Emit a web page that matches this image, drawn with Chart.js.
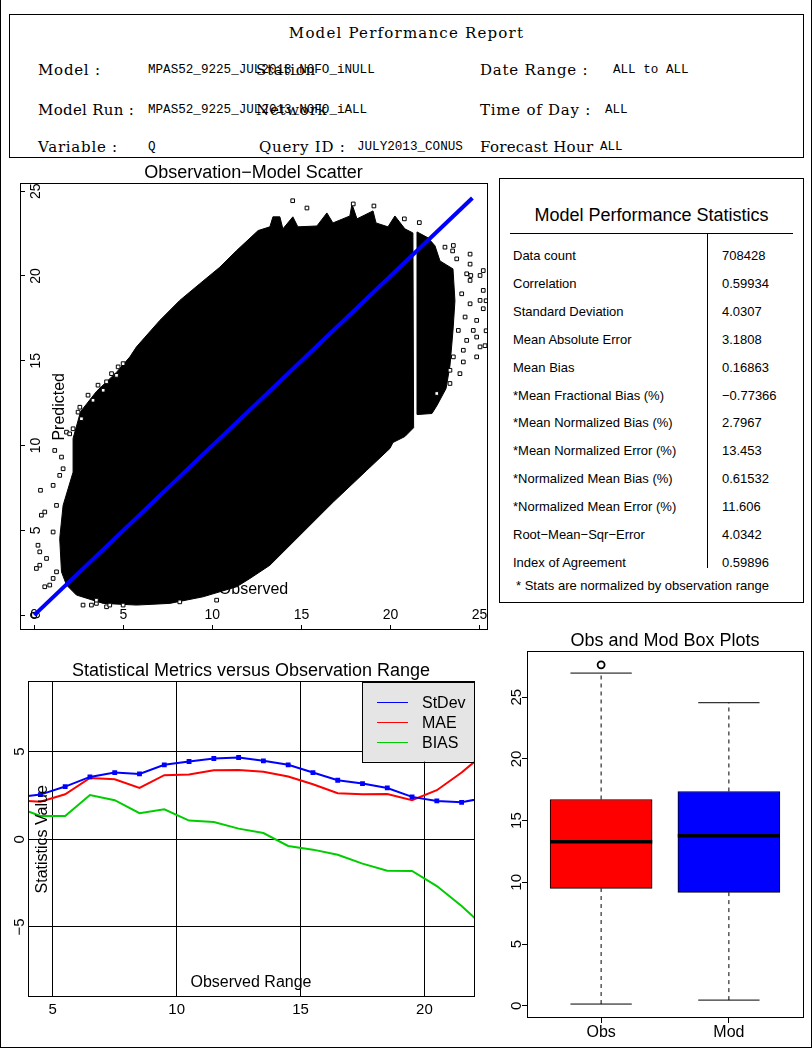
<!DOCTYPE html>
<html>
<head>
<meta charset="utf-8">
<title>Model Performance Report</title>
<script src="https://cdn.jsdelivr.net/npm/chart.js@4.4.0/dist/chart.umd.min.js"></script>
<style>
  body { margin: 0; background: #fff; }
  #page { position: relative; width: 812px; height: 1050px; overflow: hidden; }
  #outer { position: absolute; left: 0; top: 0; width: 812px; height: 1048px; box-sizing: border-box;
           border-left: 1px solid #000; border-right: 1px solid #000; border-bottom: 1px solid #000; }
  #header { position: absolute; left: 9px; top: 14px; width: 795px; height: 144px; box-sizing: border-box; border: 1px solid #000; }
  .hd { position: absolute; font-family: 'DejaVu Serif', serif; font-size: 15px; letter-spacing: 0.75px; line-height: 20px; white-space: nowrap; color: #000; }
  .hv { position: absolute; font-family: 'Liberation Mono', monospace; font-size: 12.6px; line-height: 20px; white-space: nowrap; color: #000; }
  #stats { position: absolute; left: 499px; top: 178px; width: 305px; height: 425px; box-sizing: border-box; border: 1px solid #000; }
  .st { position: absolute; font-family: 'Liberation Sans', Arial, sans-serif; font-size: 13px; line-height: 16px; white-space: nowrap; color: #000; }
  canvas { position: absolute; }
</style>
</head>
<body>
<div id="page">
  <div id="outer"></div>
  <div id="header"></div>
  <div class="hd" style="left:9px;top:23px;width:795px;text-align:center;letter-spacing:1.2px">Model Performance Report</div>

  <div class="hd" style="left:38px;top:60px">Model :</div>
  <div class="hv" style="left:148px;top:60px">MPAS52_9225_JUL2013_NOFO_iNULL</div>
  <div class="hd" style="left:256px;top:60px">Station</div>
  <div class="hd" style="left:480px;top:60px">Date Range :</div>
  <div class="hv" style="left:613px;top:60px">ALL to ALL</div>

  <div class="hd" style="left:38px;top:100px;letter-spacing:0.3px">Model Run :</div>
  <div class="hv" style="left:148px;top:100px">MPAS52_9225_JUL2013_NOFO_iALL</div>
  <div class="hd" style="left:256px;top:100px">Network</div>
  <div class="hd" style="left:480px;top:100px">Time of Day :</div>
  <div class="hv" style="left:605px;top:100px">ALL</div>

  <div class="hd" style="left:38px;top:137px">Variable :</div>
  <div class="hv" style="left:148px;top:137px">Q</div>
  <div class="hd" style="left:259px;top:137px">Query ID :</div>
  <div class="hv" style="left:357px;top:137px">JULY2013_CONUS</div>
  <div class="hd" style="left:480px;top:137px;letter-spacing:0.3px">Forecast Hour</div>
  <div class="hv" style="left:600px;top:137px">ALL</div>

  <div id="stats"></div>

  <canvas id="scatter" width="499" height="480" style="left:0;top:160px"></canvas>
  <canvas id="metrics" width="499" height="397" style="left:0;top:650px"></canvas>
  <canvas id="boxes" width="312" height="422" style="left:499px;top:625px"></canvas>
</div>

<script>
// ---- stats table ----
var statNames = ['Data count', 'Correlation', 'Standard Deviation', 'Mean Absolute Error', 'Mean Bias',
  '*Mean Fractional Bias (%)', '*Mean Normalized Bias (%)', '*Mean Normalized Error (%)',
  '*Normalized Mean Bias (%)', '*Normalized Mean Error (%)', 'Root\u2212Mean\u2212Sqr\u2212Error', 'Index of Agreement'];
var statValues = ['708428', '0.59934', '4.0307', '3.1808', '0.16863', '\u22120.77366', '2.7967', '13.453',
  '0.61532', '11.606', '4.0342', '0.59896'];

// ---- scatter: dense cloud outline (obs, mod), side band, scattered points, 1:1 line ----
var cloudObs = [2.37, 1.81, 1.53, 1.43, 1.62, 2.18, 2.18, 2.60, 3.50, 4.60, 5.37, 5.74, 7.05, 8.17, 9.29, 10.42, 11.36, 12.57,
  13.23, 13.40, 13.79, 13.96, 14.52, 14.80, 15.87, 16.43, 16.77, 17.72, 17.84, 18.12, 19.02, 19.19, 19.86, 20.25, 20.81, 21.26,
  21.30, 20.81, 20.14, 19.97, 18.66, 16.79, 14.92, 13.23, 12.11, 11.36, 9.48, 7.61, 5.74, 3.87, 2.37];
var cloudMod = [1.18, 1.77, 2.55, 4.51, 6.47, 8.43, 10.42, 12.00, 13.20, 14.30, 15.23, 15.82, 17.38, 18.56, 19.54, 20.52, 21.50, 22.68,
  22.90, 23.49, 23.49, 22.78, 23.49, 22.90, 22.95, 23.72, 23.13, 23.54, 24.24, 23.37, 23.84, 23.13, 22.90, 23.54, 22.78, 22.54,
  11.05, 10.53, 10.18, 9.83, 8.53, 6.67, 4.71, 2.94, 2.16, 1.67, 1.08, 0.69, 0.59, 0.69, 1.18];
var bandObs = [21.49, 22.11, 22.50, 22.78, 23.51, 23.62, 23.51, 23.34, 23.12, 22.61, 22.33, 21.54, 21.49];
var bandMod = [22.60, 22.25, 21.78, 20.89, 20.42, 18.54, 16.77, 14.71, 13.36, 12.36, 11.89, 11.83, 22.60];
var outObs = [14.51, 15.31, 17.91, 19.07, 20.78, 21.62, 23.06, 23.53, 23.49, 24.47, 24.47, 23.72, 24.28, 25.21, 25.03, 24.51,
  24.47, 25.21, 24.00, 25.03, 24.47, 25.21, 24.19, 24.84, 24.65, 23.81, 24.84, 24.28, 25.03, 24.09, 24.84, 23.53, 24.09, 23.34,
  23.90, 23.34, 22.60, 25.37, 25.37, 25.31,
  0.35, 1.15, 1.53, 1.06, 0.59, 0.40, 0.21, 0.31, 0.12, 0.59, 0.87, 1.06, 1.25, 0.69, 0.31, 1.06, 1.25, 1.43, 1.62, 1.81, 2.18,
  2.46, 2.65, 1.99, 2.56, 3.02, 3.58, 4.06, 4.34, 4.71, 4.99, 4.62, 3.87, 3.30,
  2.74, 3.21, 3.49, 4.06, 4.24, 4.99, 8.17, 10.24, 3.49];
var outMod = [24.44, 24.01, 24.25, 24.13, 23.37, 23.15, 21.70, 21.80, 21.48, 21.29, 20.70, 21.01, 20.13, 20.32, 20.03, 20.03,
  19.74, 19.15, 18.95, 18.56, 18.36, 18.07, 17.58, 17.38, 16.79, 16.79, 16.40, 16.20, 15.82, 15.62, 15.23, 15.23, 14.93, 14.44,
  14.24, 13.66, 13.07, 18.54, 16.77, 15.89,
  7.36, 9.71, 9.32, 7.65, 6.08, 5.89, 4.12, 2.94, 2.75, 1.67, 1.77, 2.16, 2.55, 3.34, 3.73, 4.90, 6.47, 8.24, 8.63, 10.79, 10.99,
  11.97, 11.58, 10.69, 12.26, 12.97, 13.56, 13.76, 14.24, 14.64, 14.83, 14.14, 13.26, 12.67,
  0.59, 0.59, 0.69, 0.49, 0.59, 0.59, 0.78, 0.88, 0.88];
var oneToOne = [0, 24.6];
var scatterTicks = [0, 5, 10, 15, 20, 25];

// ---- metrics versus observation range ----
var binMid = [3.5, 4.5, 5.5, 6.5, 7.5, 8.5, 9.5, 10.5, 11.5, 12.5, 13.5, 14.5, 15.5, 16.5, 17.5, 18.5, 19.5, 20.5, 21.5, 22.5];
var stdevVals = [2.40, 2.55, 3.01, 3.56, 3.81, 3.73, 4.25, 4.44, 4.61, 4.67, 4.48, 4.25, 3.81, 3.37, 3.18, 2.93, 2.42, 2.19, 2.11, 2.39];
var maeVals = [2.22, 2.15, 2.57, 3.50, 3.43, 2.93, 3.66, 3.70, 3.94, 3.96, 3.85, 3.58, 3.14, 2.63, 2.57, 2.59, 2.23, 2.80, 3.81, 5.00];
var biasVals = [1.85, 1.33, 1.33, 2.53, 2.23, 1.49, 1.71, 1.07, 0.99, 0.61, 0.36, -0.38, -0.59, -0.88, -1.39, -1.79, -1.81, -2.67, -3.81, -5.10];
var metricXTicks = [5, 10, 15, 20];
var metricYTicks = [-5, 0, 5];

// ---- box plots ----
var boxLabels = ['Obs', 'Mod'];
var boxColors = ['#ff0000', '#0000ff'];
var boxLow = [0.14, 0.46];
var boxQ1 = [9.51, 9.19];
var boxMed = [13.28, 13.77];
var boxQ3 = [16.71, 17.36];
var boxHigh = [26.95, 24.55];
var boxOutX = [1];
var boxOutY = [27.62];
var boxYTicks = [0, 5, 10, 15, 20, 25];

// stats panel
var stats = document.getElementById('stats');
function addDiv(parent, cls, text, css) {
  var d = document.createElement('div');
  d.className = cls;
  d.textContent = text;
  d.style.cssText = css;
  parent.appendChild(d);
  return d;
}
addDiv(stats, 'st', 'Model Performance Statistics', 'left:0;top:24px;width:303px;text-align:center;font-size:18px;line-height:24px');
addDiv(stats, '', '', 'position:absolute;left:10px;top:54px;width:283px;height:1px;background:#000');
addDiv(stats, '', '', 'position:absolute;left:207px;top:54px;width:1px;height:335px;background:#000');
for (var i = 0; i < statNames.length; i++) {
  var cy = 77 + i * 27.9;
  addDiv(stats, 'st', statNames[i], 'left:13px;top:' + (cy - 8) + 'px');
  addDiv(stats, 'st', statValues[i], 'left:222px;top:' + (cy - 8) + 'px');
}
addDiv(stats, 'st', '* Stats are normalized by observation range', 'left:16px;top:399px');

// charts
Chart.defaults.font.family = "'Liberation Sans', Arial, sans-serif";
Chart.defaults.color = '#000';
Chart.defaults.animation = false;
Chart.defaults.events = [];
Chart.defaults.plugins.legend.display = false;
Chart.defaults.plugins.tooltip.enabled = false;

var framePlugin = {
  id: 'frame',
  afterDraw: function (chart) {
    var a = chart.chartArea, c = chart.ctx;
    c.save();
    c.strokeStyle = '#000';
    c.lineWidth = 1;
    c.strokeRect(Math.floor(a.left) + 0.5, Math.floor(a.top) + 0.5, Math.round(a.right - a.left), Math.round(a.bottom - a.top));
    c.restore();
  }
};

// axis names drawn inside the plot region, as in the original
function insideText(items) {
  return {
    id: 'insideText',
    afterDatasetsDraw: function (chart) {
      var a = chart.chartArea, c = chart.ctx;
      c.save();
      c.fillStyle = '#000';
      c.font = "16px 'Liberation Sans', Arial, sans-serif";
      c.textAlign = 'center';
      c.textBaseline = 'middle';
      items.forEach(function (it) {
        c.save();
        c.translate(a.left + it.x * (a.right - a.left), a.top + it.y * (a.bottom - a.top));
        if (it.rot) c.rotate(-Math.PI / 2);
        c.fillText(it.text, 0, 0);
        c.restore();
      });
      c.restore();
    }
  };
}

function fixedTicks(list) {
  return function (scale) { scale.ticks = list.map(function (v) { return { value: v }; }); };
}
// fixed axis size, and no extra room for the end labels
function fitX(h) {
  return function (s) { s.height = h; s.paddingLeft = 0; s.paddingRight = 0; };
}
function fitY(w) {
  return function (s) { s.width = w; s.paddingTop = 0; s.paddingBottom = 0; };
}
function minusLabel(v) { return v < 0 ? '\u2212' + Math.abs(v) : String(v); }

// scatter
new Chart(document.getElementById('scatter'), {
  type: 'scatter',
  data: {
    datasets: [
      { label: '1:1', data: oneToOne.map(function (v) { return { x: v, y: v }; }), showLine: true,
        borderColor: '#0000ff', borderWidth: 4, pointRadius: 0, order: 0 },
      { label: 'points', data: outObs.map(function (v, i) { return { x: v, y: outMod[i] }; }),
        pointStyle: 'rect', pointRadius: 2.6, borderColor: '#000', borderWidth: 1, backgroundColor: '#fff', order: 1 },
      { label: 'cloud', data: cloudObs.map(function (v, i) { return { x: v, y: cloudMod[i] }; }), showLine: true,
        fill: 'shape', backgroundColor: '#000', borderColor: '#000', borderWidth: 1, pointRadius: 0, order: 2 },
      { label: 'band', data: bandObs.map(function (v, i) { return { x: v, y: bandMod[i] }; }), showLine: true,
        fill: 'shape', backgroundColor: '#000', borderColor: '#000', borderWidth: 1, pointRadius: 0, order: 2 }
    ]
  },
  options: {
    responsive: false,
    layout: { padding: { left: 20, right: 12, top: 0, bottom: 10 } },
    plugins: {
      title: { display: true, text: 'Observation\u2212Model Scatter', font: { size: 18, weight: 'normal' }, padding: { top: 2, bottom: 0 } }
    },
    scales: {
      x: {
        type: 'linear', min: -0.8, max: 25.42,
        afterBuildTicks: fixedTicks(scatterTicks),
        afterFit: fitX(0),
        border: { display: false },
        grid: { drawOnChartArea: false, drawTicks: true, tickLength: -5, color: '#000' },
        ticks: { font: { size: 14 }, mirror: true, padding: 6, maxRotation: 0 }
      },
      y: {
        type: 'linear', min: -0.88, max: 25.45,
        afterBuildTicks: fixedTicks(scatterTicks),
        afterFit: fitY(0),
        border: { display: false },
        grid: { drawOnChartArea: false, drawTicks: true, tickLength: -5, color: '#000' },
        ticks: { font: { size: 14 }, mirror: true, padding: 8, minRotation: 90, maxRotation: 90, crossAlign: 'center' }
      }
    }
  },
  plugins: [framePlugin, insideText([
    { text: 'Predicted', x: 0.0857, y: 0.5, rot: true },
    { text: 'Observed', x: 0.5, y: 0.9105 }
  ])]
});

// metrics legend box in the top right corner
var legendBox = {
  id: 'legendBox',
  afterDatasetsDraw: function (chart) {
    var a = chart.chartArea, c = chart.ctx;
    var w = 112, h = 80, left = a.right - w, top = a.top;
    c.save();
    c.fillStyle = '#e5e5e5';
    c.fillRect(left, top, w, h);
    c.strokeStyle = '#000';
    c.lineWidth = 1;
    c.strokeRect(Math.round(left) + 0.5, Math.round(top) + 0.5, w, h);
    c.font = "16px 'Liberation Sans', Arial, sans-serif";
    c.textBaseline = 'middle';
    c.textAlign = 'left';
    chart.data.datasets.forEach(function (ds, i) {
      var y = Math.round(top + 20 + i * 20) + 0.5;
      c.strokeStyle = ds.borderColor;
      c.lineWidth = 1;
      c.beginPath();
      c.moveTo(left + 15, y);
      c.lineTo(left + 46, y);
      c.stroke();
      c.fillStyle = '#000';
      c.fillText(ds.label, left + 60, y + 1);
    });
    c.restore();
  }
};

new Chart(document.getElementById('metrics'), {
  type: 'line',
  data: {
    datasets: [
      { label: 'StDev', data: binMid.map(function (v, i) { return { x: v, y: stdevVals[i] }; }),
        borderColor: '#0000ff', backgroundColor: '#0000ff', borderWidth: 2, pointRadius: 2, pointStyle: 'rect', tension: 0 },
      { label: 'MAE', data: binMid.map(function (v, i) { return { x: v, y: maeVals[i] }; }),
        borderColor: '#ff0000', borderWidth: 2, pointRadius: 0, tension: 0 },
      { label: 'BIAS', data: binMid.map(function (v, i) { return { x: v, y: biasVals[i] }; }),
        borderColor: '#00cd00', borderWidth: 2, pointRadius: 0, tension: 0 }
    ]
  },
  options: {
    responsive: false,
    layout: { padding: { left: 0, right: 25, top: 0, bottom: 0 } },
    plugins: {
      title: { display: true, fullSize: false, text: 'Statistical Metrics versus Observation Range', font: { size: 18, weight: 'normal' }, padding: { top: 10, bottom: 0 } }
    },
    scales: {
      x: {
        type: 'linear', min: 4, max: 22,
        afterBuildTicks: fixedTicks(metricXTicks),
        afterFit: fitX(50),
        border: { display: false },
        grid: { color: '#000', lineWidth: 1, drawTicks: false },
        ticks: { font: { size: 15 }, padding: 4, maxRotation: 0 }
      },
      y: {
        type: 'linear', min: -9, max: 9,
        afterBuildTicks: fixedTicks(metricYTicks),
        afterFit: fitY(28),
        border: { display: false },
        grid: { color: '#000', lineWidth: 1, drawTicks: false },
        ticks: { font: { size: 15 }, padding: 0, minRotation: 90, maxRotation: 90, crossAlign: 'center', callback: minusLabel }
      }
    }
  },
  plugins: [framePlugin, legendBox, insideText([
    { text: 'Statistics Value', x: 0.0336, y: 0.5, rot: true },
    { text: 'Observed Range', x: 0.5, y: 0.9556 }
  ])]
});

// box plots: boxes as floating bars, whiskers, caps and medians as line segments
var boxSets = [];
boxSets.push({
  type: 'bar', label: 'box',
  data: boxLabels.map(function (l, i) { return { x: i + 1, y: [boxQ1[i], boxQ3[i]] }; }),
  backgroundColor: boxColors, borderColor: '#000', borderWidth: 1, borderSkipped: false,
  barThickness: 102, order: 3
});
function seg(x1, y1, x2, y2, width, dash, order) {
  return { type: 'line', data: [{ x: x1, y: y1 }, { x: x2, y: y2 }], borderColor: '#000', borderWidth: width,
    borderDash: dash, pointRadius: 0, tension: 0, order: order };
}
for (var b = 0; b < boxLabels.length; b++) {
  var cx = b + 1;
  boxSets.push(seg(cx, boxLow[b], cx, boxQ1[b], 1, [4, 4], 2));
  boxSets.push(seg(cx, boxQ3[b], cx, boxHigh[b], 1, [4, 4], 2));
  boxSets.push(seg(cx - 0.24, boxLow[b], cx + 0.24, boxLow[b], 1, [], 2));
  boxSets.push(seg(cx - 0.24, boxHigh[b], cx + 0.24, boxHigh[b], 1, [], 2));
  boxSets.push(seg(cx - 0.4, boxMed[b], cx + 0.4, boxMed[b], 3.5, [], 1));
}
boxSets.push({
  type: 'line', label: 'outliers', showLine: false,
  data: boxOutX.map(function (v, i) { return { x: v, y: boxOutY[i] }; }),
  pointStyle: 'circle', pointRadius: 3.5, borderWidth: 1.8, borderColor: '#000', backgroundColor: '#fff', order: 0
});

new Chart(document.getElementById('boxes'), {
  type: 'bar',
  data: { datasets: boxSets },
  options: {
    responsive: false,
    layout: { padding: { left: 0, right: 8, top: 0, bottom: 0 } },
    plugins: {
      title: { display: true, fullSize: false, text: 'Obs and Mod Box Plots', font: { size: 18, weight: 'normal' }, padding: { top: 5, bottom: 0 } }
    },
    scales: {
      x: {
        type: 'linear', min: 0.42, max: 2.58, offset: false,
        afterBuildTicks: fixedTicks([1, 2]),
        afterFit: fitX(29),
        border: { display: false },
        grid: { offset: false, drawOnChartArea: false, drawTicks: true, tickLength: 5, color: '#000' },
        ticks: { font: { size: 16 }, padding: 0, maxRotation: 0, callback: function (v) { return boxLabels[v - 1]; } }
      },
      y: {
        type: 'linear', min: -0.99, max: 28.69,
        afterBuildTicks: fixedTicks(boxYTicks),
        afterFit: fitY(28),
        border: { display: false },
        grid: { drawOnChartArea: false, drawTicks: true, tickLength: 5, color: '#000' },
        ticks: { font: { size: 15 }, padding: -3, minRotation: 90, maxRotation: 90, crossAlign: 'center' }
      }
    }
  },
  plugins: [framePlugin]
});
</script>
</body>
</html>
